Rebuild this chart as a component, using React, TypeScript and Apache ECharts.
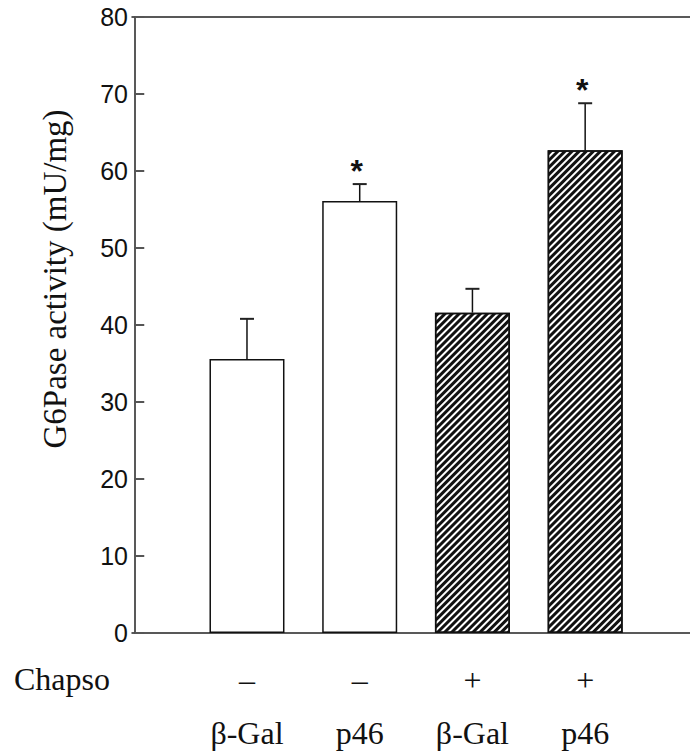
import React, { useEffect, useRef } from "react";
import * as echarts from "echarts";

const groups = ["β-Gal", "p46", "β-Gal", "p46"];
const chapso = ["–", "–", "+", "+"];
const xPos = [1, 2, 3, 4];
const values = [35.6, 56.1, 41.6, 62.7];
const errors = [5.2, 2.2, 3.1, 6.1];
const significance = ["", "*", "", "*"];
const hatched = [false, false, true, true];
const yTicks = [0, 10, 20, 30, 40, 50, 60, 70, 80];

const SERIF = "Liberation Serif";
const SANS = "Liberation Sans";

export default function App() {
  const ref = useRef<HTMLDivElement>(null);
  useEffect(() => {
    if (!ref.current) return;
    const chart = echarts.init(ref.current, undefined, { renderer: "svg" });
    const hatch = {
      symbol: "rect",
      symbolSize: 1,
      dashArrayX: [1, 0],
      dashArrayY: [2.3, 2],
      rotation: -Math.PI / 4,
      color: "#111",
      backgroundColor: "#fff",
    };
    chart.setOption({
      animation: false,
      backgroundColor: "#fff",
      grid: { left: 132, right: 0, top: 17, bottom: 122, containLabel: false },
      xAxis: [
        {
          type: "value",
          min: -0.02,
          max: 4.93,
          splitLine: { show: false },
          axisLine: { show: true, onZero: false, lineStyle: { color: "#222", width: 1.5 } },
          axisTick: { show: false },
          axisLabel: {
            customValues: xPos,
            margin: 20,
            formatter: (v: number) => {
              const i = xPos.indexOf(Math.round(v));
              if (i < 0) return "";
              return `{s|${chapso[i]}}\n{n|${groups[i]}}`;
            },
            rich: {
              s: { fontFamily: SERIF, fontSize: 32, lineHeight: 53, color: "#111" },
              n: { fontFamily: SERIF, fontSize: 32, lineHeight: 53, color: "#111" },
            },
          },
        },
        {
          type: "value",
          position: "top",
          min: -0.02,
          max: 4.93,
          splitLine: { show: false },
          axisLine: { show: true, onZero: false, lineStyle: { color: "#222", width: 1.5 } },
          axisTick: { show: false },
          axisLabel: { show: false },
        },
      ],
      yAxis: {
        type: "value",
        min: 0,
        max: 80,
        interval: 10,
        splitLine: { show: false },
        axisLine: { show: true, lineStyle: { color: "#222", width: 1.5 } },
        axisTick: { show: true, inside: true, length: 10, lineStyle: { color: "#555", width: 2 } },
        axisLabel: {
          margin: 4,
          fontFamily: SANS,
          fontSize: 25,
          color: "#111",
          formatter: (v: number) => (yTicks.includes(v) ? String(v) : ""),
        },
      },
      graphic: [
        {
          type: "text",
          x: 55,
          y: 279,
          rotation: Math.PI / 2,
          style: {
            text: "G6Pase activity (mU/mg)",
            fontFamily: SERIF,
            fontSize: 33,
            fill: "#111",
            textAlign: "center",
            textVerticalAlign: "middle",
          },
        },
        {
          type: "text",
          left: 14,
          top: 663,
          style: { text: "Chapso", fontFamily: SERIF, fontSize: 32, fill: "#111" },
        },
      ],
      series: [
        {
          type: "bar",
          barWidth: 75,
          data: values.map((v, i) => ({
            value: [xPos[i], v],
            itemStyle: {
              color: "#fff",
              borderColor: "#111",
              borderWidth: 1.5,
              decal: hatched[i] ? hatch : null,
            },
          })),
        },
        {
          type: "custom",
          data: values.map((v, i) => [xPos[i], v, v + errors[i], i]),
          renderItem: (params: any, api: any) => {
            const x = api.value(0);
            const lo = api.coord([x, api.value(1)]);
            const hi = api.coord([x, api.value(2)]);
            const idx = api.value(3);
            const children: any[] = [
              {
                type: "line",
                shape: { x1: lo[0], y1: lo[1], x2: hi[0], y2: hi[1] },
                style: { stroke: "#111", lineWidth: 1.5 },
              },
              {
                type: "line",
                shape: { x1: hi[0] - 7, y1: hi[1], x2: hi[0] + 7, y2: hi[1] },
                style: { stroke: "#222", lineWidth: 2 },
              },
            ];
            if (significance[idx]) {
              children.push({
                type: "text",
                x: hi[0] - 3,
                y: hi[1] - 13,
                style: {
                  text: significance[idx],
                  fontFamily: SANS,
                  fontSize: 32,
                  fontWeight: "bold",
                  fill: "#111",
                  textAlign: "center",
                  textVerticalAlign: "middle",
                },
              });
            }
            return { type: "group", children };
          },
          z: 5,
        },
      ],
    });
    return () => chart.dispose();
  }, []);
  return <div ref={ref} style={{ width: 690, height: 755, position: "absolute", left: 0, top: 0 }} />;
}
